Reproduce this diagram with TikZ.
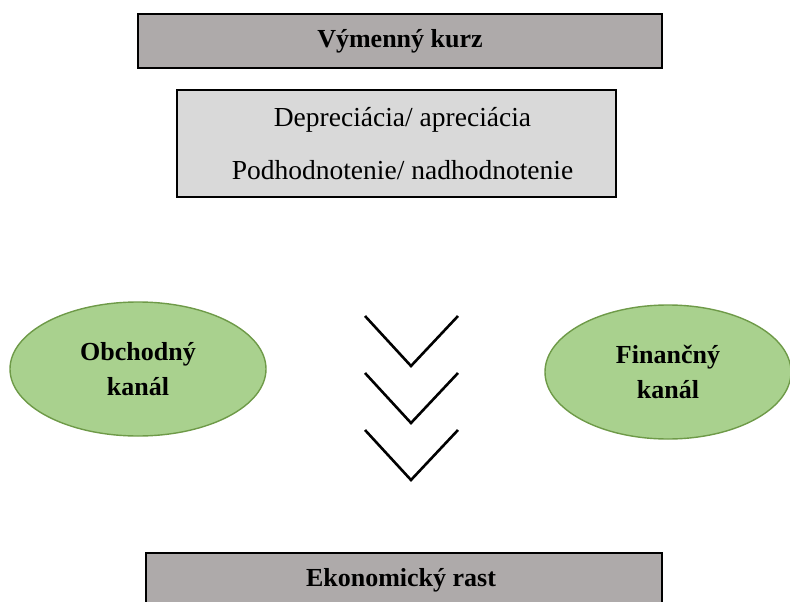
\documentclass[tikz,border=0pt]{standalone}
\usepackage{fontspec}
\setmainfont{Liberation Serif}
\usepackage{xcolor}
\usetikzlibrary{shapes.geometric}

\definecolor{headgray}{HTML}{AEAAAA}
\definecolor{lightgray}{HTML}{D9D9D9}
\definecolor{leafgreen}{HTML}{A9D18E}
\definecolor{edgegreen}{HTML}{6E9A48}

\tikzset{
	headbox/.style={draw,line width=1.6pt,fill=headgray,minimum width=524pt,minimum height=54pt,font=\fontsize{26}{30}\selectfont\bfseries},
	channel/.style={ellipse,draw=edgegreen,line width=1.4pt,fill=leafgreen,inner sep=0pt,font=\fontsize{26}{35}\selectfont\bfseries,align=center}
}

\begin{document}
\begin{tikzpicture}[x=1pt,y=-1pt]
	\clip (0,0) rectangle (790,602);
	\useasboundingbox (0,0) rectangle (790,602);

	\node[headbox] (exchange_rate) at (400,41) {Výmenný kurz};

	\node[draw,line width=1.6pt,fill=lightgray,minimum width=439pt,minimum height=107pt,align=center,font=\fontsize{27.5}{53}\selectfont] (rate_moves) at (396.5,143.5) {
		\hspace*{12pt}Depreciácia/ apreciácia\\
		\hspace*{12pt}Podhodnotenie/ nadhodnotenie
	};

	\node[channel,minimum width=256pt,minimum height=134pt] (trade_channel) at (138,369) {Obchodný\\kanál};

	\node[channel,minimum width=246pt,minimum height=134pt] (finance_channel) at (668,372) {Finančný\\kanál};

	\foreach \y in {316,373,430}
		\draw[line width=2.6pt] (365,\y) -- (411,\y+50) -- (458,\y);

	\node[headbox,minimum width=516pt] (economic_growth) at (404,580) {Ekonomický rast\hspace*{6pt}};
\end{tikzpicture}
\end{document}
